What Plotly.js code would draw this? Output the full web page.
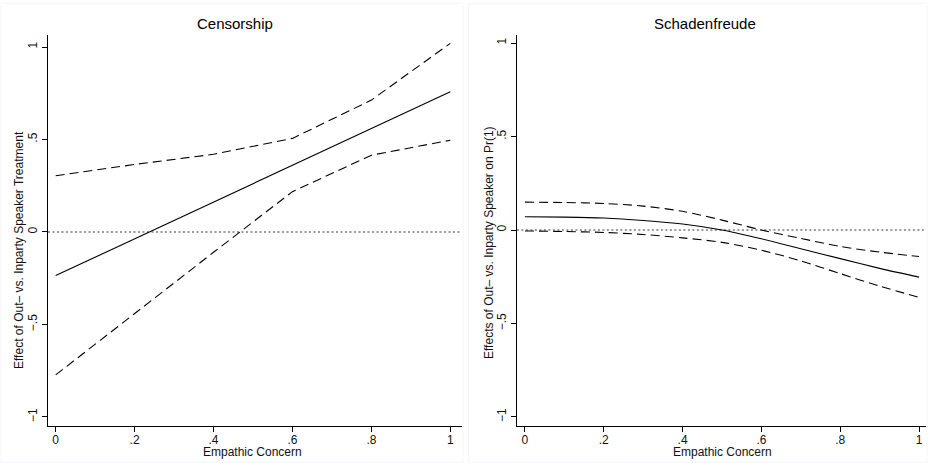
<!DOCTYPE html>
<html><head><meta charset="utf-8">
<script src="https://cdn.plot.ly/plotly-3.0.1.min.js"></script>
<style>html,body{margin:0;padding:0;background:#fff}#chart{width:928px;height:463px}</style>
</head><body><div id="chart"></div>
<script>
// Censorship panel
const censX = [0, 0.2, 0.4, 0.6, 0.8, 1];
const censEst = [-0.236, -0.037, 0.161, 0.36, 0.559, 0.758];
const censUpper = [0.304, 0.365, 0.42, 0.506, 0.713, 1.02];
const censLower = [-0.773, -0.44, -0.11, 0.218, 0.415, 0.496];
// Schadenfreude panel
const schX = [0, 0.1, 0.2, 0.3, 0.4, 0.5, 0.6, 0.7, 0.8, 0.9, 1];
const schEst = [0.071, 0.069, 0.064, 0.051, 0.032, 0.0, -0.047, -0.10, -0.153, -0.205, -0.252];
const schUpper = [0.149, 0.147, 0.142, 0.128, 0.10, 0.053, 0.0, -0.045, -0.088, -0.118, -0.142];
const schLower = [-0.005, -0.008, -0.013, -0.024, -0.042, -0.066, -0.108, -0.165, -0.233, -0.30, -0.36];
// ticks
const xTickVals = [0, 0.2, 0.4, 0.6, 0.8, 1];
const xTickText = ['0', '.2', '.4', '.6', '.8', '1'];
const yTickVals = [-1, -0.5, 0, 0.5, 1];
const yTickText = ['\u22121', '\u2212.5', '0', '.5', '1'];

const solid = {color: '#000', width: 1.1};
const dashed = {color: '#000', width: 1.1, dash: '9px,5px'};
const traces = [
  {x: censX, y: censUpper, mode: 'lines', line: dashed, xaxis: 'x', yaxis: 'y'},
  {x: censX, y: censEst, mode: 'lines', line: solid, xaxis: 'x', yaxis: 'y'},
  {x: censX, y: censLower, mode: 'lines', line: dashed, xaxis: 'x', yaxis: 'y'},
  {x: schX, y: schUpper, mode: 'lines', line: Object.assign({shape: 'spline', smoothing: 0.8}, dashed), xaxis: 'x2', yaxis: 'y2'},
  {x: schX, y: schEst, mode: 'lines', line: Object.assign({shape: 'spline', smoothing: 0.8}, solid), xaxis: 'x2', yaxis: 'y2'},
  {x: schX, y: schLower, mode: 'lines', line: Object.assign({shape: 'spline', smoothing: 0.8}, dashed), xaxis: 'x2', yaxis: 'y2'}
];

const font = {family: 'Liberation Sans, Arial, sans-serif', color: '#000'};
function xax(domain, range) {
  return {domain: domain, range: range, showgrid: false, zeroline: false, showline: true,
    linecolor: '#000', linewidth: 1.2, ticks: 'outside', ticklen: 5, tickcolor: '#000',
    ticklabelstandoff: -3,
    tickvals: xTickVals, ticktext: xTickText, tickfont: {family: font.family, size: 12, color: '#111'}};
}
function yax(range) {
  return {domain: [0.08, 0.9244], range: range, showgrid: false, zeroline: false, showline: true,
    linecolor: '#000', linewidth: 1.2, ticks: 'outside', ticklen: 5, tickcolor: '#000',
    tickangle: -90, tickvals: yTickVals, ticktext: yTickText,
    tickfont: {family: font.family, size: 12, color: '#111'}};
}

const layout = {
  width: 928, height: 463, margin: {l: 0, r: 0, t: 0, b: 0},
  paper_bgcolor: '#fff', plot_bgcolor: '#fff', showlegend: false, font: font,
  xaxis: xax([0.0517, 0.498], [-0.0195, 1.03]),
  yaxis: Object.assign(yax([-1.049, 1.065]), {anchor: 'x'}),
  xaxis2: Object.assign(xax([0.557, 0.998], [-0.0203, 1.018]), {anchor: 'y2'}),
  yaxis2: Object.assign(yax([-1.048, 1.043]), {anchor: 'x2'}),
  shapes: [
    {type: 'rect', xref: 'paper', yref: 'paper', x0: 0.001, x1: 0.499, y0: 0.001, y1: 0.992, line: {color: '#f3f6f8', width: 1}},
    {type: 'rect', xref: 'paper', yref: 'paper', x0: 0.505, x1: 0.999, y0: 0.001, y1: 0.992, line: {color: '#f3f6f8', width: 1}},
    {type: 'line', xref: 'x domain', yref: 'y', x0: 0, x1: 1, y0: 0, y1: 0, line: {color: '#7a7a7a', width: 1.6, dash: '2px,2.5px'}, layer: 'below'},
    {type: 'line', xref: 'x2 domain', yref: 'y2', x0: 0, x1: 1, y0: 0, y1: 0, line: {color: '#7a7a7a', width: 1.6, dash: '2px,2.5px'}, layer: 'below'}
  ],
  annotations: [
    {text: 'Censorship', xref: 'paper', yref: 'paper', x: 235/928, y: 1 - 24/463, xanchor: 'center', yanchor: 'middle', showarrow: false, font: {family: font.family, size: 15, color: '#000'}},
    {text: 'Schadenfreude', xref: 'paper', yref: 'paper', x: 705/928, y: 1 - 24/463, xanchor: 'center', yanchor: 'middle', showarrow: false, font: {family: font.family, size: 15, color: '#000'}},
    {text: 'Empathic Concern', xref: 'paper', yref: 'paper', x: 253/928, y: 1 - 452/463, xanchor: 'center', yanchor: 'middle', showarrow: false, font: {family: font.family, size: 12, color: '#111'}},
    {text: 'Empathic Concern', xref: 'paper', yref: 'paper', x: 722/928, y: 1 - 452/463, xanchor: 'center', yanchor: 'middle', showarrow: false, font: {family: font.family, size: 12, color: '#111'}},
    {text: 'Effect of Out\u2013 vs. Inparty Speaker Treatment', textangle: -90, xref: 'paper', yref: 'paper', x: 19/928, y: 1 - 250/463, xanchor: 'center', yanchor: 'middle', showarrow: false, font: {family: font.family, size: 12, color: '#111'}},
    {text: 'Effects of Out\u2013 vs. Inparty Speaker on Pr(1)', textangle: -90, xref: 'paper', yref: 'paper', x: 489/928, y: 1 - 243/463, xanchor: 'center', yanchor: 'middle', showarrow: false, font: {family: font.family, size: 12, color: '#111'}}
  ]
};
Plotly.newPlot('chart', traces, layout, {staticPlot: true, displayModeBar: false});
</script></body></html>
